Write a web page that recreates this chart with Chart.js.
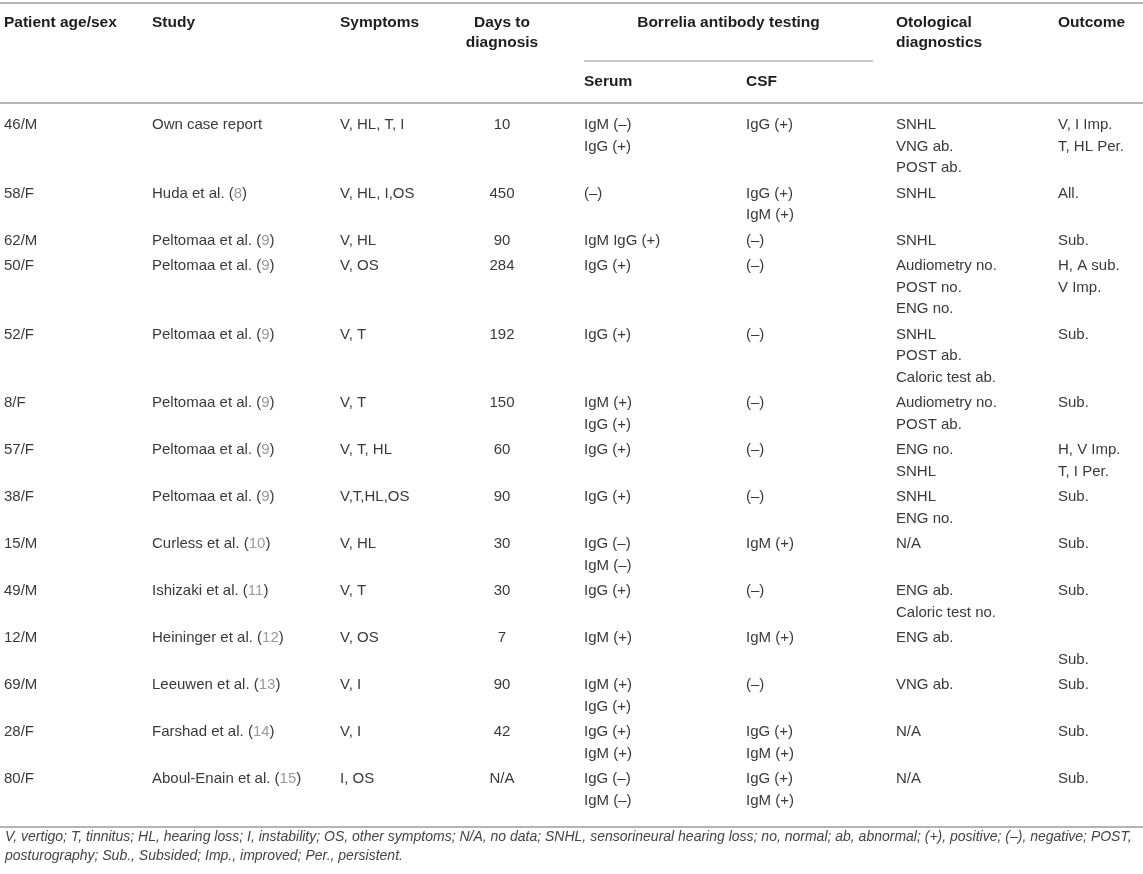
<!DOCTYPE html>
<meta charset="utf-8">
<head>
  <title>Borrelia cases table</title>
  <style>
    html, body {
      margin: 0;
      padding: 0;
      background: #fff;
    }
    .container {
      width: 1143px;
      height: 874px;
      position: relative;
    }
  </style>
</head>
<body>
  <div class="container">
    <canvas id="chart"></canvas>
  </div>

<script src="https://cdn.jsdelivr.net/npm/chart.js"></script>
<script>
    // table content
    var headers = [['Patient age/sex'], ['Study'], ['Symptoms'], ['Days to', 'diagnosis'],
                   ['Borrelia antibody testing'], ['Otological', 'diagnostics'], ['Outcome']];
    var subHeaders = ['Serum', 'CSF'];

    var ageSex = ['46/M', '58/F', '62/M', '50/F', '52/F', '8/F', '57/F', '38/F', '15/M', '49/M', '12/M', '69/M', '28/F', '80/F'];
    var studyAuthors = ['Own case report', 'Huda et al.', 'Peltomaa et al.', 'Peltomaa et al.', 'Peltomaa et al.',
                        'Peltomaa et al.', 'Peltomaa et al.', 'Peltomaa et al.', 'Curless et al.', 'Ishizaki et al.',
                        'Heininger et al.', 'Leeuwen et al.', 'Farshad et al.', 'Aboul-Enain et al.'];
    var studyRefs = ['', '8', '9', '9', '9', '9', '9', '9', '10', '11', '12', '13', '14', '15'];
    var symptoms = ['V, HL, T, I', 'V, HL, I,OS', 'V, HL', 'V, OS', 'V, T', 'V, T', 'V, T, HL', 'V,T,HL,OS',
                    'V, HL', 'V, T', 'V, OS', 'V, I', 'V, I', 'I, OS'];
    var daysToDiagnosis = ['10', '450', '90', '284', '192', '150', '60', '90', '30', '30', '7', '90', '42', 'N/A'];
    var serum = [['IgM (–)', 'IgG (+)'], ['(–)'], ['IgM IgG (+)'], ['IgG (+)'], ['IgG (+)'], ['IgM (+)', 'IgG (+)'],
                 ['IgG (+)'], ['IgG (+)'], ['IgG (–)', 'IgM (–)'], ['IgG (+)'], ['IgM (+)'], ['IgM (+)', 'IgG (+)'],
                 ['IgG (+)', 'IgM (+)'], ['IgG (–)', 'IgM (–)']];
    var csf = [['IgG (+)'], ['IgG (+)', 'IgM (+)'], ['(–)'], ['(–)'], ['(–)'], ['(–)'], ['(–)'], ['(–)'],
               ['IgM (+)'], ['(–)'], ['IgM (+)'], ['(–)'], ['IgG (+)', 'IgM (+)'], ['IgG (+)', 'IgM (+)']];
    var otological = [['SNHL', 'VNG ab.', 'POST ab.'], ['SNHL'], ['SNHL'], ['Audiometry no.', 'POST no.', 'ENG no.'],
                      ['SNHL', 'POST ab.', 'Caloric test ab.'], ['Audiometry no.', 'POST ab.'], ['ENG no.', 'SNHL'],
                      ['SNHL', 'ENG no.'], ['N/A'], ['ENG ab.', 'Caloric test no.'], ['ENG ab.'], ['VNG ab.'],
                      ['N/A'], ['N/A']];
    var outcome = [['V, I Imp.', 'T, HL Per.'], ['All.'], ['Sub.'], ['H, A sub.', 'V Imp.'], ['Sub.'], ['Sub.'],
                   ['H, V Imp.', 'T, I Per.'], ['Sub.'], ['Sub.'], ['Sub.'], ['', 'Sub.'], ['Sub.'], ['Sub.'], ['Sub.']];
    var notes = ['V, vertigo; T, tinnitus; HL, hearing loss; I, instability; OS, other symptoms; N/A, no data; SNHL, sensorineural hearing loss; no, normal; ab, abnormal; (+), positive; (–), negative; POST,',
                 'posturography; Sub., Subsided; Imp., improved; Per., persistent.'];

    // layout
    var W = 1143, H = 874;
    var FONT = '"Liberation Sans", Arial, Helvetica, sans-serif';
    var BODY_SIZE = 15, HEAD_SIZE = 15.5, NOTE_SIZE = 14;
    var TEXT = '#3a3a3a', HEAD = '#1e1e1e', REF = '#9a9a9a', RULE = '#b4b4b4';
    var colX = [4, 152, 340, 502, 584, 746, 896, 1058];
    var ROW_FIRST = 125, LINE_H = 21.5, ROW_GAP = 25.5;

    function toLines(v) {
        return Array.isArray(v) ? v : [v];
    }

    function row_positions() {
        var ys = [];
        var y = ROW_FIRST;
        for (var i = 0; i < ageSex.length; i++) {
            ys.push(y);
            var n = Math.max(serum[i].length, csf[i].length, otological[i].length, outcome[i].length, 1);
            y += (n - 1) * LINE_H + ROW_GAP;
        }
        return ys;
    }

    var rowY = row_positions();

    function column_dataset(label, cells, x, align) {
        return {
            label: label,
            data: rowY.map(function(y) { return {x: x, y: y}; }),
            cells: cells.map(toLines),
            align: align,
            pointRadius: 0,
            pointHoverRadius: 0,
            showLine: false
        };
    }

    var datasets = [
        column_dataset('age', ageSex, colX[0], 'left'),
        column_dataset('study', studyAuthors, colX[1], 'left'),
        column_dataset('symptoms', symptoms, colX[2], 'left'),
        column_dataset('days', daysToDiagnosis, colX[3], 'center'),
        column_dataset('serum', serum, colX[4], 'left'),
        column_dataset('csf', csf, colX[5], 'left'),
        column_dataset('otological', otological, colX[6], 'left'),
        column_dataset('outcome', outcome, colX[7], 'left')
    ];

    var tablePlugin = {
        id: 'tableText',
        afterDatasetsDraw: function(chart) {
            var ctx = chart.ctx;
            var xs = chart.scales.x, ys = chart.scales.y;
            var px = function(v) { return xs.getPixelForValue(v); };
            var py = function(v) { return ys.getPixelForValue(v); };
            ctx.save();
            ctx.textBaseline = 'middle';

            // rules
            ctx.strokeStyle = RULE;
            ctx.lineWidth = 2;
            [3, 103, 827].forEach(function(y) {
                ctx.beginPath(); ctx.moveTo(px(0), py(y)); ctx.lineTo(px(W), py(y)); ctx.stroke();
            });
            ctx.lineWidth = 1.3;
            ctx.beginPath(); ctx.moveTo(px(colX[4]), py(61)); ctx.lineTo(px(873), py(61)); ctx.stroke();

            // header
            ctx.fillStyle = HEAD;
            ctx.font = 'bold ' + HEAD_SIZE + 'px ' + FONT;
            var headX = [colX[0], colX[1], colX[2], colX[3], (colX[4] + 873) / 2, colX[6], colX[7]];
            var headAlign = ['left', 'left', 'left', 'center', 'center', 'left', 'left'];
            headers.forEach(function(lines, i) {
                ctx.textAlign = headAlign[i];
                lines.forEach(function(t, j) {
                    ctx.fillText(t, px(headX[i]), py(23 + j * 20));
                });
            });
            ctx.textAlign = 'left';
            ctx.fillText(subHeaders[0], px(colX[4]), py(82));
            ctx.fillText(subHeaders[1], px(colX[5]), py(82));

            // body cells
            ctx.font = BODY_SIZE + 'px ' + FONT;
            chart.data.datasets.forEach(function(ds, di) {
                var meta = chart.getDatasetMeta(di);
                meta.data.forEach(function(pt, i) {
                    var lines = ds.cells[i];
                    ctx.textAlign = ds.align;
                    lines.forEach(function(t, j) {
                        var y = pt.y + j * (py(LINE_H) - py(0));
                        ctx.fillStyle = TEXT;
                        ctx.fillText(t, pt.x, y);
                        if (ds.label === 'study' && studyRefs[i]) {
                            var x = pt.x + ctx.measureText(t + ' ').width;
                            ctx.fillText('(', x, y);
                            x += ctx.measureText('(').width;
                            ctx.fillStyle = REF;
                            ctx.fillText(studyRefs[i], x, y);
                            x += ctx.measureText(studyRefs[i]).width;
                            ctx.fillStyle = TEXT;
                            ctx.fillText(')', x, y);
                        }
                    });
                });
            });

            // footnote
            ctx.textAlign = 'left';
            ctx.fillStyle = '#444';
            ctx.font = 'italic ' + NOTE_SIZE + 'px ' + FONT;
            notes.forEach(function(t, j) {
                ctx.fillText(t, px(5), py(837 + j * 19));
            });
            ctx.restore();
        }
    };

    var chart = new Chart('chart', {
        type: 'scatter',
        data: { datasets: datasets },
        options: {
            responsive: true,
            maintainAspectRatio: false,
            animation: false,
            layout: { padding: 0 },
            plugins: {
                legend: { display: false },
                tooltip: { enabled: false }
            },
            scales: {
                x: { type: 'linear', min: 0, max: W, display: false },
                y: { type: 'linear', min: 0, max: H, reverse: true, display: false }
            }
        },
        plugins: [tablePlugin]
    });
</script>
</body>
</html>
